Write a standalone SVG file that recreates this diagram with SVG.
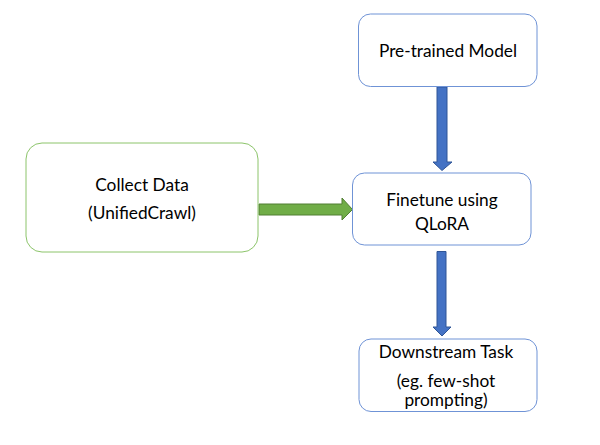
<svg xmlns="http://www.w3.org/2000/svg" width="600" height="445" viewBox="0 0 600 445">
<style>
.box{fill:#fff;stroke-width:1}
.blue{stroke:#6f93d6}
.green{stroke:#8cc46a}
.t{font-family:Lato,"Liberation Sans",sans-serif;font-size:17.3px;fill:#000;text-anchor:middle}
.ab{fill:#4472c4;stroke:#2f5597;stroke-width:1}
.ag{fill:#70ad47;stroke:#507e32;stroke-width:1}
</style>
<rect width="600" height="445" fill="#fff"/>
<g id="connectors">
<path class="ab" d="M437,87 H447 V162 H452 L442,170.5 L433,162 H437 Z"/>
<path class="ab" d="M437,251.5 H446 V327 H451 L442,336 L433,327 H437 Z"/>
<path class="ag" d="M259,204 H342 V198 L352.5,209.5 L342,220 V215 H259 Z"/>
</g>
<g id="pretrained">
<rect class="box blue" x="358.5" y="14" width="178.5" height="72.5" rx="12"/>
<text class="t" x="448" y="57">Pre-trained Model</text>
</g>
<g id="collect">
<rect class="box green" x="26" y="143" width="232" height="109" rx="16"/>
<text class="t" x="142" y="191">Collect Data</text>
<text class="t" x="142" y="219">(UnifiedCrawl)</text>
</g>
<g id="finetune">
<rect class="box blue" x="352.5" y="173" width="178.5" height="72" rx="12"/>
<text class="t" x="442" y="206">Finetune using</text>
<text class="t" x="442" y="230">QLoRA</text>
</g>
<g id="downstream">
<rect class="box blue" x="359" y="339" width="178" height="72.5" rx="12"/>
<text class="t" x="446" y="358">Downstream Task</text>
<text class="t" x="446" y="387">(eg. few-shot</text>
<text class="t" x="446" y="406">prompting)</text>
</g>
</svg>
